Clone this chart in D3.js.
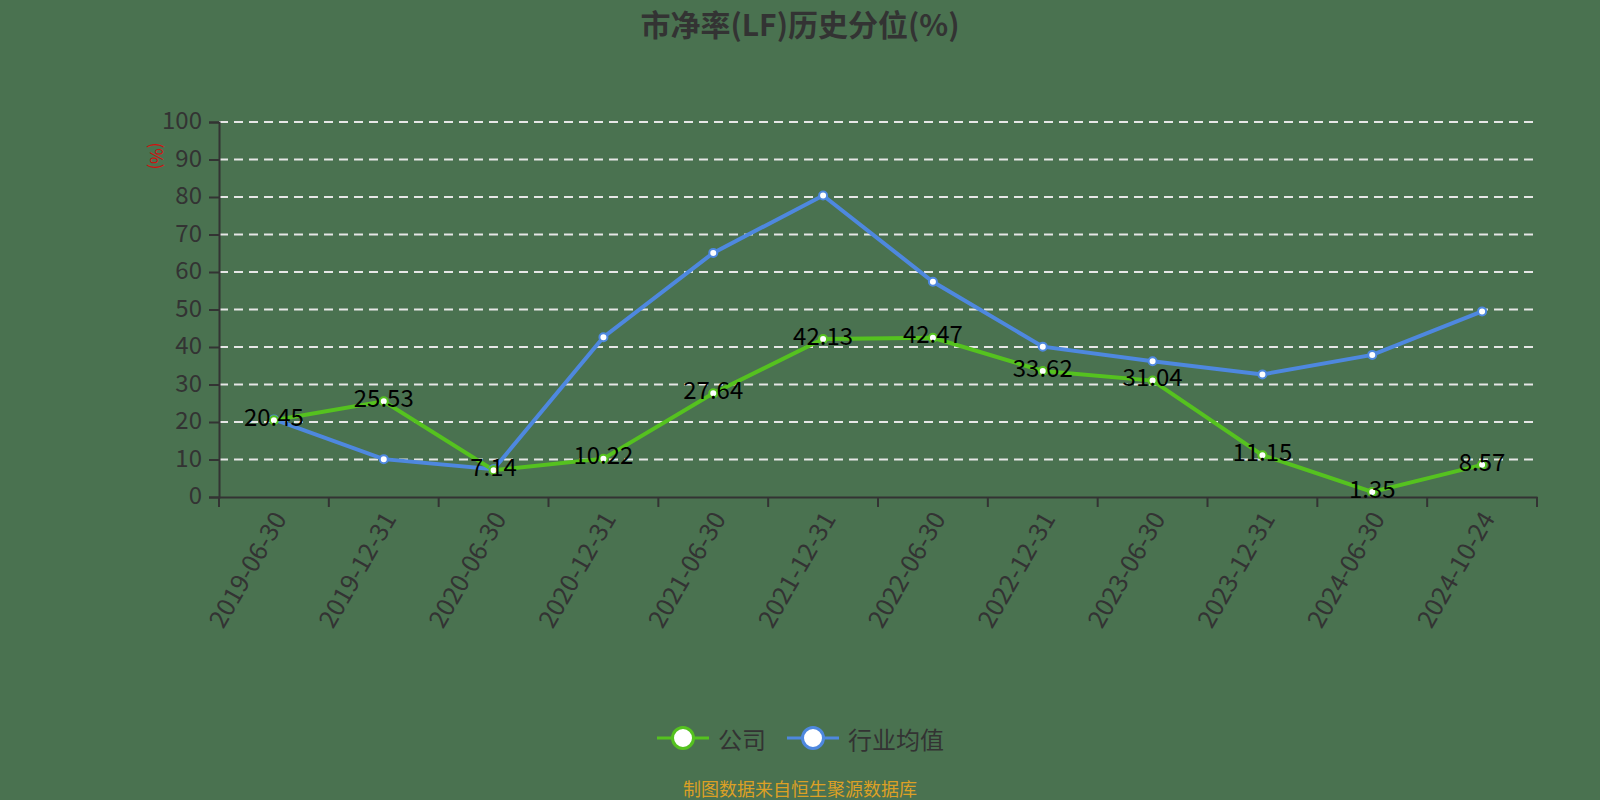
<!DOCTYPE html>
<html>
<head>
<meta charset="utf-8">
<script src="https://cdn.jsdelivr.net/npm/d3@7"></script>
<style>
	body { margin: 0; background: #4a7250; }
	.frame { background: #4a7250; }
	text { font-family: "Noto Sans CJK SC", "Liberation Sans", sans-serif; }
</style>
</head>
<body>
<div id="chart"></div>
<script>
// data
const DATES = ["2019-06-30", "2019-12-31", "2020-06-30", "2020-12-31", "2021-06-30", "2021-12-31",
			   "2022-06-30", "2022-12-31", "2023-06-30", "2023-12-31", "2024-06-30", "2024-10-24"];
const COMPANY = [20.45, 25.53, 7.14, 10.22, 27.64, 42.13, 42.47, 33.62, 31.04, 11.15, 1.35, 8.57];
const INDUSTRY = [20.7, 10.1, 7.4, 42.6, 65.1, 80.4, 57.4, 40.1, 36.2, 32.7, 37.9, 49.5];
const Y_TICKS = [0, 10, 20, 30, 40, 50, 60, 70, 80, 90, 100];
const SERIES_NAMES = ["公司", "行业均值"];

// variables
const WIDTH = 1600
const HEIGHT = 800
const MARGINS = {left: 219, right: 63, top: 122, bottom: 303};
const GREEN = "#55c21f";
const BLUE = "#4e88df";

const SVG =
d3.select("#chart")
	.append("svg")
		.attr("width", WIDTH)
		.attr("height", HEIGHT)
		.attr("class", "frame");

// scales
const X = d3.scaleBand()
				.domain(DATES)
				.range([MARGINS.left, WIDTH - MARGINS.right])
				.padding(0);

const Y = d3.scaleLinear()
				.domain([0, 100])
				.range([HEIGHT - MARGINS.bottom, MARGINS.top]);

const cx = (d) => {return X(d) + X.bandwidth() / 2};

// title
SVG.append("text")
	.attr("x", WIDTH / 2)
	.attr("y", 23)
	.attr("text-anchor", "middle")
	.attr("dominant-baseline", "central")
	.attr("font-size", 30)
	.attr("font-weight", "bold")
	.attr("fill", "#333")
	.text("市净率(LF)历史分位(%)");

// gridlines
SVG.append("g")
	.selectAll("line")
	.data(Y_TICKS.filter((d) => {return d > 0}))
	.enter()
	.append("line")
		.attr("x1", MARGINS.left)
		.attr("x2", WIDTH - MARGINS.right)
		.attr("y1", (d) => {return Y(d)})
		.attr("y2", (d) => {return Y(d)})
		.attr("stroke", "#e6e6e6")
		.attr("stroke-width", 2)
		.attr("stroke-dasharray", "9,6");

// y axis
const yAxis = SVG.append("g")
	.attr("transform", "translate(" + MARGINS.left + ",0)")
	.call(d3.axisLeft(Y).tickValues(Y_TICKS).tickSize(10).tickPadding(7));
yAxis.select(".domain").attr("stroke", "#333").attr("stroke-width", 2);
yAxis.selectAll(".tick line").attr("stroke", "#333").attr("stroke-width", 2);
yAxis.selectAll(".tick text")
	.attr("font-size", 24)
	.attr("font-family", "Noto Sans CJK SC, sans-serif")
	.attr("dy", "0.28em")
	.attr("fill", "#333");

// y axis name
SVG.append("text")
	.attr("transform", "translate(157,156) rotate(90)")
	.attr("text-anchor", "middle")
	.attr("dominant-baseline", "central")
	.attr("font-size", 17)
	.attr("fill", "#d01010")
	.text("(%)");

// x axis
const xAxis = SVG.append("g")
	.attr("transform", "translate(0," + Y(0) + ")")
	.call(d3.axisBottom(X).tickSize(0).tickFormat(""));
xAxis.select(".domain").attr("stroke", "#333").attr("stroke-width", 2);

// boundary ticks
SVG.append("g")
	.selectAll("line")
	.data(DATES.concat(["end"]))
	.enter()
	.append("line")
		.attr("x1", (d, i) => {return MARGINS.left + i * X.bandwidth()})
		.attr("x2", (d, i) => {return MARGINS.left + i * X.bandwidth()})
		.attr("y1", Y(0))
		.attr("y2", Y(0) + 10)
		.attr("stroke", "#333")
		.attr("stroke-width", 2);

// x labels
SVG.append("g")
	.selectAll("text")
	.data(DATES)
	.enter()
	.append("text")
		.attr("transform", (d) => {return "translate(" + (cx(d) + 4) + "," + (Y(0) + 16) + ") rotate(-60)"})
		.attr("text-anchor", "end")
		.attr("dominant-baseline", "central")
		.attr("font-size", 25)
		.attr("fill", "#333")
		.text((d) => {return d});

// lines
const line = (vals) => {
	return d3.line()
		.x((d, i) => {return cx(DATES[i])})
		.y((d) => {return Y(d)})(vals);
};

SVG.append("path")
	.attr("d", line(INDUSTRY))
	.attr("fill", "none")
	.attr("stroke", BLUE)
	.attr("stroke-width", 4);

SVG.append("path")
	.attr("d", line(COMPANY))
	.attr("fill", "none")
	.attr("stroke", GREEN)
	.attr("stroke-width", 4);

// markers
SVG.append("g")
	.selectAll("circle")
	.data(INDUSTRY)
	.enter()
	.append("circle")
		.attr("cx", (d, i) => {return cx(DATES[i])})
		.attr("cy", (d) => {return Y(d)})
		.attr("r", 4)
		.attr("fill", "#fff")
		.attr("stroke", BLUE)
		.attr("stroke-width", 2);

SVG.append("g")
	.selectAll("circle")
	.data(COMPANY)
	.enter()
	.append("circle")
		.attr("cx", (d, i) => {return cx(DATES[i])})
		.attr("cy", (d) => {return Y(d)})
		.attr("r", 4)
		.attr("fill", "#fff")
		.attr("stroke", GREEN)
		.attr("stroke-width", 2);

// data labels (company only)
SVG.append("g")
	.selectAll("text")
	.data(COMPANY)
	.enter()
	.append("text")
		.attr("x", (d, i) => {return cx(DATES[i])})
		.attr("y", (d) => {return Y(d)})
		.attr("dy", "0.24em")
		.attr("text-anchor", "middle")
		.attr("font-size", 24)
		.attr("fill", "#000")
		.text((d) => {return d.toFixed(2)});

// legend
const LEGEND = SVG.append("g")
	.selectAll("g")
	.data(SERIES_NAMES)
	.enter()
	.append("g")
		.attr("transform", (d, i) => {return "translate(" + [683, 813][i] + ",738)"});

LEGEND.append("line")
	.attr("x1", -26)
	.attr("x2", 26)
	.attr("stroke", (d, i) => {return [GREEN, BLUE][i]})
	.attr("stroke-width", 3);

LEGEND.append("circle")
	.attr("r", 10.5)
	.attr("fill", "#fff")
	.attr("stroke", (d, i) => {return [GREEN, BLUE][i]})
	.attr("stroke-width", 3);

LEGEND.append("text")
	.attr("x", 35)
	.attr("dominant-baseline", "central")
	.attr("font-size", 24)
	.attr("fill", "#333")
	.text((d) => {return d});

// source note
SVG.append("text")
	.attr("x", WIDTH / 2)
	.attr("y", 788)
	.attr("text-anchor", "middle")
	.attr("dominant-baseline", "central")
	.attr("font-size", 18)
	.attr("fill", "#dca025")
	.text("制图数据来自恒生聚源数据库");
</script>
</body>
</html>
